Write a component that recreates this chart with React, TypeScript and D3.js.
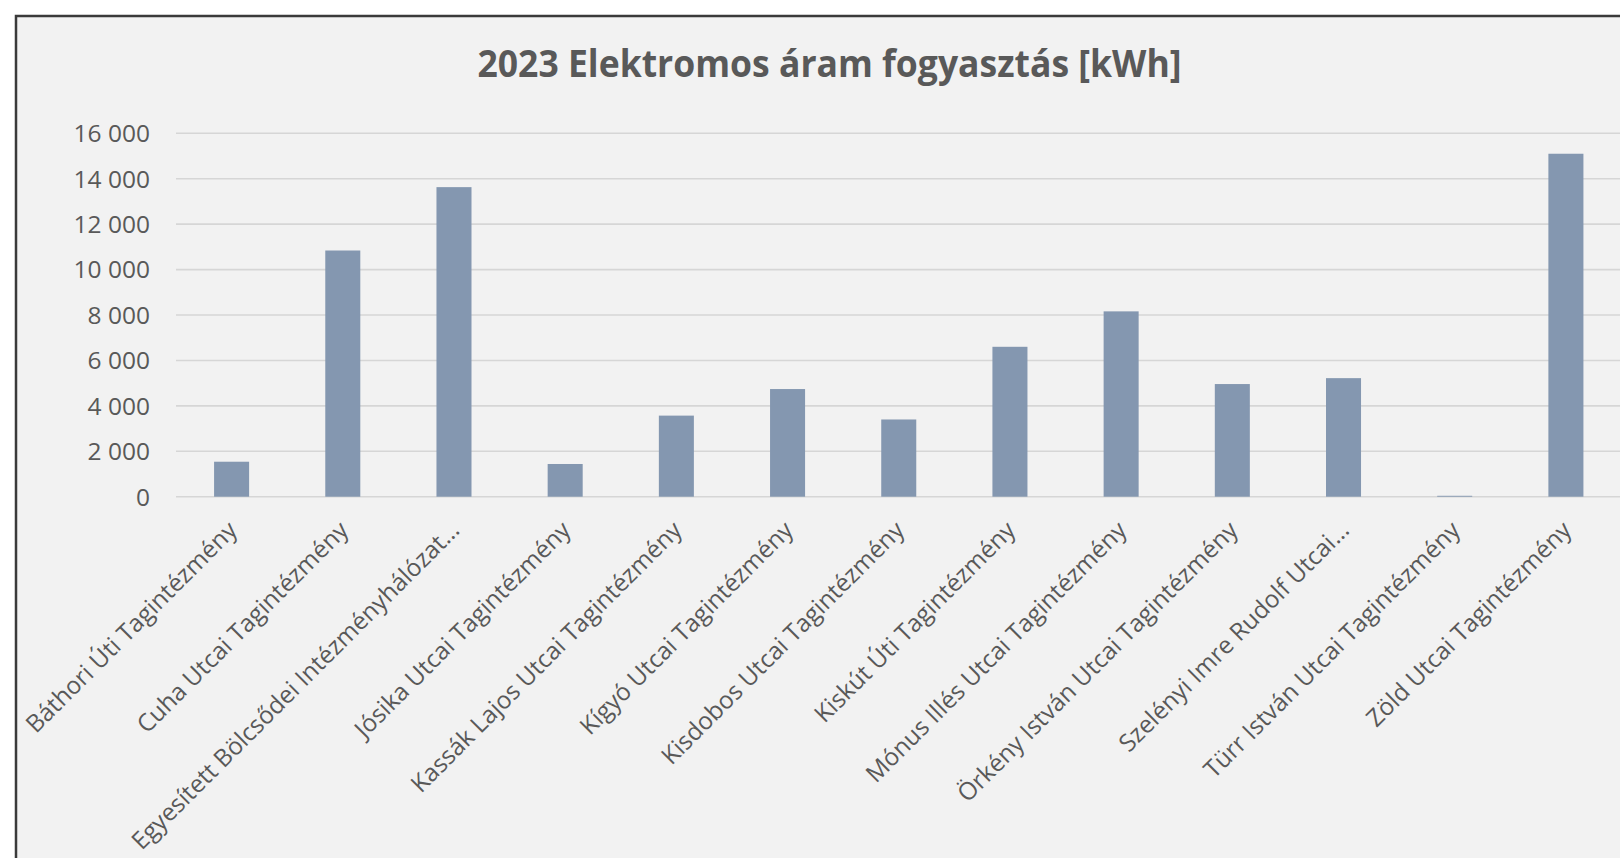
import React from "react";
import * as d3 from "d3";

const categories: string[] = [
  "Báthori Úti Tagintézmény",
  "Cuha Utcai Tagintézmény",
  "Egyesített Bölcsődei Intézményhálózat…",
  "Jósika Utcai Tagintézmény",
  "Kassák Lajos Utcai Tagintézmény",
  "Kígyó Utcai Tagintézmény",
  "Kisdobos Utcai Tagintézmény",
  "Kiskút Úti Tagintézmény",
  "Mónus Illés Utcai Tagintézmény",
  "Örkény István Utcai Tagintézmény",
  "Szelényi Imre Rudolf Utcai…",
  "Türr István Utcai Tagintézmény",
  "Zöld Utcai Tagintézmény",
];

const values: number[] = [1540, 10840, 13630, 1440, 3570, 4740, 3400, 6600, 8160, 4960, 5220, 40, 15100];

const yTicks: number[] = [0, 2000, 4000, 6000, 8000, 10000, 12000, 14000, 16000];

const title = "2023 Elektromos áram fogyasztás [kWh]";

const W = 1620;
const H = 858;
const plot = { left: 176, right: 1621.5, top: 133.3, bottom: 496.7 };

const locale = d3.formatLocale({ decimal: ",", thousands: " ", grouping: [3], currency: ["", " Ft"] });
const fmt = locale.format(",d");

export default function App() {
  const x = d3.scaleBand<string>().domain(categories).range([plot.left, plot.right]).padding(0);
  const y = d3.scaleLinear().domain([0, 16000]).range([plot.bottom, plot.top]);
  const barW = x.bandwidth() * 0.315;
  const textColor = "#595959";
  const font = "'Open Sans', sans-serif";

  return (
    <svg
      width={W}
      height={H}
      style={{ position: "fixed", left: 0, top: 0, display: "block" }}
      xmlns="http://www.w3.org/2000/svg"
    >
      <rect x={0} y={0} width={W} height={H} fill="#ffffff" />
      <rect x={16} y={16} width={W + 20} height={H + 20} fill="#F2F2F2" stroke="#3a3a3a" strokeWidth={2.5} />
      <text
        x={829.5}
        y={77.3}
        textAnchor="middle"
        fontFamily={font}
        fontWeight={700}
        fontSize={38}
        fill={textColor}
        textLength={704}
        lengthAdjust="spacingAndGlyphs"
      >
        {title}
      </text>
      {yTicks.map((t) => (
        <g key={t}>
          <line x1={plot.left} x2={W} y1={y(t)} y2={y(t)} stroke="#D6D6D6" strokeWidth={1.6} />
          <text
            x={150}
            y={y(t)}
            dy="0.36em"
            textAnchor="end"
            fontFamily={font}
            fontSize={24.5}
            fill={textColor}
          >
            {fmt(t)}
          </text>
        </g>
      ))}
      {categories.map((c, i) => {
        const cx = (x(c) as number) + x.bandwidth() / 2;
        return (
          <rect
            key={c}
            x={cx - barW / 2}
            y={y(values[i])}
            width={barW}
            height={plot.bottom - y(values[i])}
            fill="#8497B0"
          />
        );
      })}
      {categories.map((c) => {
        const cx = (x(c) as number) + x.bandwidth() / 2;
        const ax = cx + 1;
        const ay = plot.bottom + 29;
        return (
          <text
            key={"l" + c}
            x={ax}
            y={ay}
            textAnchor="end"
            dy="0.35em"
            transform={`rotate(-45 ${ax} ${ay})`}
            fontFamily={font}
            fontSize={24.3}
            fill={textColor}
          >
            {c}
          </text>
        );
      })}
    </svg>
  );
}
